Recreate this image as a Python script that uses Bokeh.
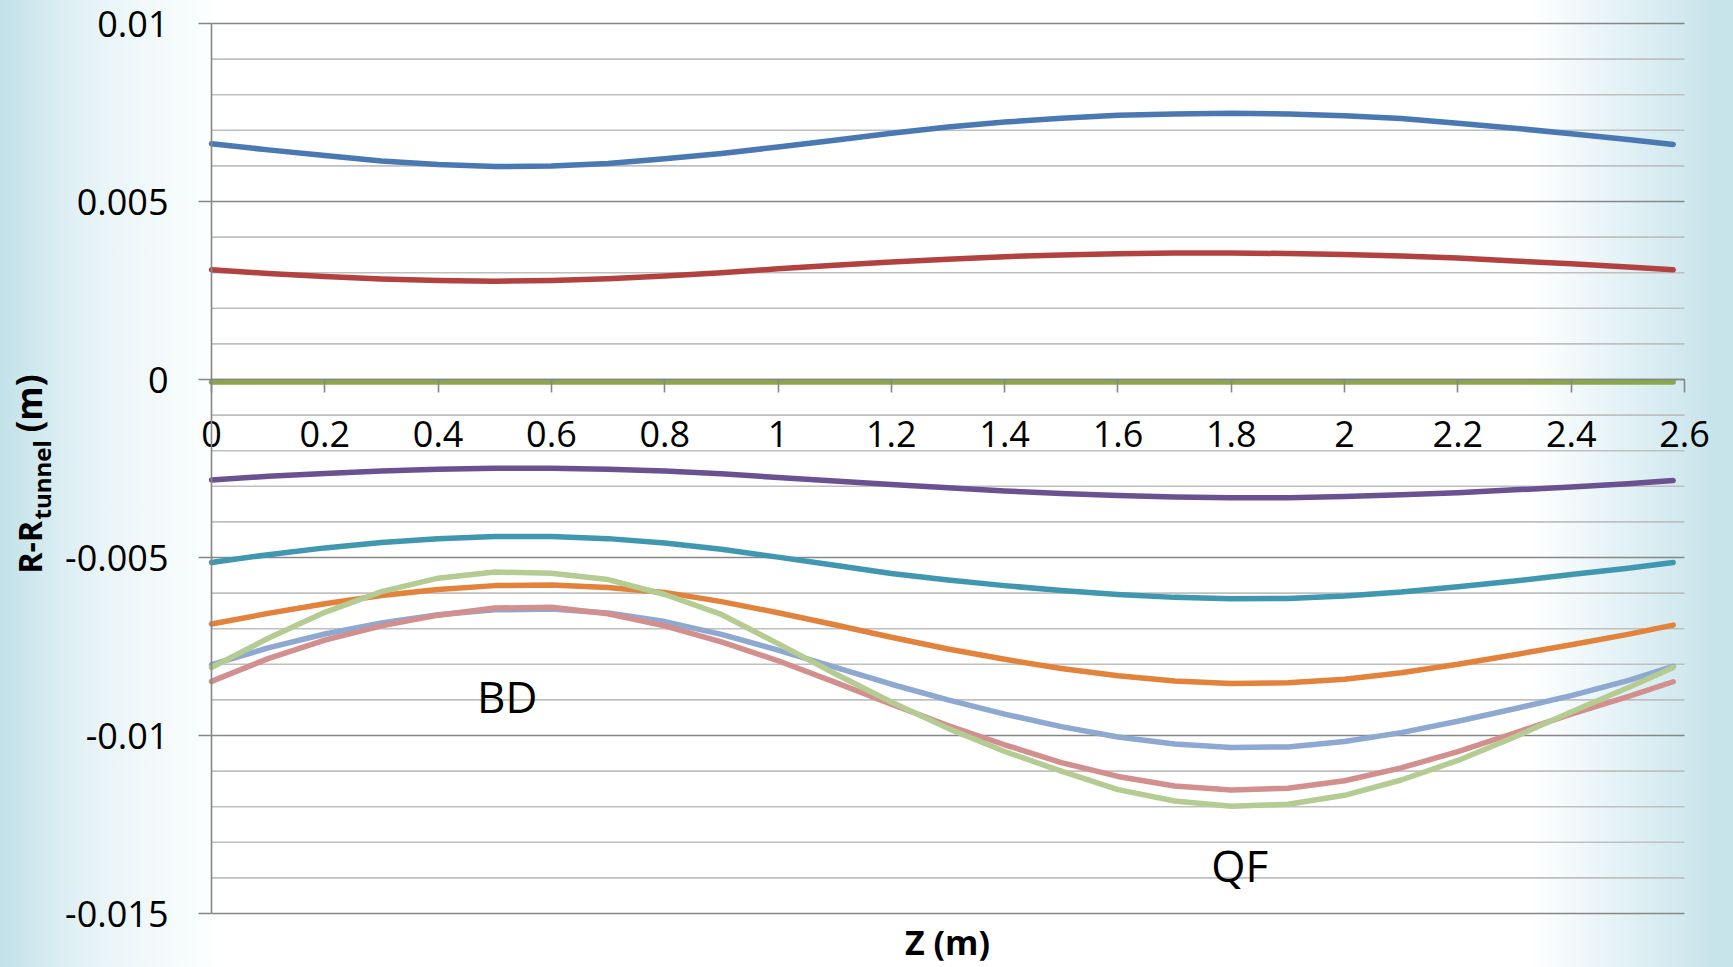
from bokeh.plotting import figure
from bokeh.models import (FixedTicker, CustomJSTickFormatter, Label, Range1d)
from bokeh.embed import file_html
from bokeh.resources import INLINE
import math

# ---------------- data ----------------
z = [0.0, 0.1, 0.2, 0.3, 0.4, 0.5, 0.6, 0.7, 0.8, 0.9, 1.0, 1.1, 1.2, 1.3,
     1.4, 1.5, 1.6, 1.7, 1.8, 1.9, 2.0, 2.1, 2.2, 2.3, 2.4, 2.5, 2.58]

s_blue = [0.00662, 0.00645, 0.00629, 0.00614, 0.00604, 0.00598, 0.00600, 0.00607,
          0.00620, 0.00635, 0.00653, 0.00672, 0.00692, 0.00709, 0.00723, 0.00734,
          0.00742, 0.00746, 0.00748, 0.00746, 0.00741, 0.00733, 0.00720, 0.00706,
          0.00690, 0.00674, 0.00660]
s_red = [0.00308, 0.00298, 0.00289, 0.00282, 0.00278, 0.00276, 0.00278, 0.00283,
         0.00291, 0.00300, 0.00311, 0.00321, 0.00330, 0.00338, 0.00345, 0.00350,
         0.00353, 0.00355, 0.00355, 0.00354, 0.00351, 0.00347, 0.00341, 0.00333,
         0.00325, 0.00316, 0.00308]
s_green = [-0.00007, -0.00007, -0.00007, -0.00007, -0.00007, -0.00007, -0.00007,
           -0.00007, -0.00007, -0.00007, -0.00007, -0.00007, -0.00007, -0.00007,
           -0.00007, -0.00007, -0.00007, -0.00007, -0.00007, -0.00007, -0.00007,
           -0.00007, -0.00007, -0.00007, -0.00007, -0.00007, -0.00007]
s_purple = [-0.00282, -0.00272, -0.00264, -0.00257, -0.00252, -0.00249, -0.00249,
            -0.00252, -0.00257, -0.00265, -0.00275, -0.00285, -0.00295, -0.00304,
            -0.00313, -0.00320, -0.00326, -0.00330, -0.00332, -0.00332, -0.00329,
            -0.00324, -0.00318, -0.00310, -0.00302, -0.00293, -0.00284]
s_teal = [-0.00514, -0.00492, -0.00473, -0.00458, -0.00447, -0.00441, -0.00441,
          -0.00447, -0.00459, -0.00477, -0.00499, -0.00522, -0.00545, -0.00563,
          -0.00579, -0.00593, -0.00604, -0.00612, -0.00616, -0.00615, -0.00608,
          -0.00597, -0.00582, -0.00566, -0.00548, -0.00530, -0.00514]
s_orange = [-0.00687, -0.00657, -0.00630, -0.00607, -0.00590, -0.00579, -0.00577,
            -0.00584, -0.00598, -0.00624, -0.00655, -0.00689, -0.00724, -0.00757,
            -0.00786, -0.00812, -0.00832, -0.00847, -0.00854, -0.00852, -0.00842,
            -0.00824, -0.00800, -0.00773, -0.00745, -0.00716, -0.00690]
s_ltblue = [-0.00801, -0.00754, -0.00715, -0.00684, -0.00661, -0.00647, -0.00645,
            -0.00656, -0.00680, -0.00716, -0.00760, -0.00808, -0.00856, -0.00900,
            -0.00940, -0.00975, -0.01004, -0.01024, -0.01034, -0.01032, -0.01017,
            -0.00992, -0.00960, -0.00925, -0.00888, -0.00846, -0.00806]
s_pink = [-0.00848, -0.00784, -0.00732, -0.00692, -0.00662, -0.00642, -0.00640,
          -0.00658, -0.00692, -0.00737, -0.00790, -0.00850, -0.00912, -0.00972,
          -0.01026, -0.01076, -0.01115, -0.01142, -0.01153, -0.01148, -0.01127,
          -0.01091, -0.01045, -0.00993, -0.00940, -0.00891, -0.00849]
s_ltgreen = [-0.00809, -0.00727, -0.00654, -0.00596, -0.00558, -0.00541, -0.00544,
             -0.00562, -0.00604, -0.00660, -0.00742, -0.00826, -0.00906, -0.00980,
             -0.01045, -0.01100, -0.01152, -0.01184, -0.01199, -0.01193, -0.01168,
             -0.01125, -0.01070, -0.01004, -0.00934, -0.00866, -0.00809]

series = [s_blue, s_red, s_green, s_purple, s_teal, s_orange, s_ltblue, s_pink, s_ltgreen]
colors = ["#4a78b3", "#b1423f", "#8aa84a", "#6c5191", "#3f98b0",
          "#e3823a", "#8da8d1", "#d28f8e", "#b4cc92"]

x_ticks = [0, 0.2, 0.4, 0.6, 0.8, 1, 1.2, 1.4, 1.6, 1.8, 2, 2.2, 2.4, 2.6]
y_ticks = [-0.015, -0.01, -0.005, 0, 0.005, 0.01]
y_minor = [round(-0.015 + 0.001 * i, 3) for i in range(26) if i % 5 != 0]

x_title = "Z (m)"
y_title_parts = ["R-R", "tunnel", "(m)"]
annotations = [("BD", 0.522, -0.00888), ("QF", 1.815, -0.01365)]

# ---------------- layout (pixels of the page) ----------------
W, H = 1733, 967
FL, FR, FT, FB = 211, 1684, 23, 913          # where the axes box sits
X0, X1, Y0, Y1 = 0.0, 2.6, -0.015, 0.01
xpp = (X1 - X0) / (FR - FL)
ypp = (Y1 - Y0) / (FB - FT)


def dx(px):
    return X0 + (px - FL) * xpp


def dy(py):
    return Y0 + (FB - py) * ypp


FONT = "Open Sans"
p = figure(width=W, height=H, output_backend="svg", toolbar_location=None,
           x_range=Range1d(dx(0), dx(W)), y_range=Range1d(dy(H), dy(0)),
           min_border=0)
p.styles = {
    "background": "linear-gradient(to right, #c2e1e9 0px, #e6f3f6 90px, #ffffff 225px, "
                  "#ffffff 1530px, #e2f1f5 1625px, #c8e4eb 1712px, #c8e4eb 1733px)",
}
p.background_fill_alpha = 0
p.border_fill_alpha = 0
p.outline_line_color = None
p.grid.visible = False

# horizontal grid lines, spanning the axes box only
p.segment(x0=X0, x1=X1, y0=y_minor, y1=y_minor, line_color="#bfbfbf",
          line_width=1.6, level="underlay")
p.segment(x0=X0, x1=X1, y0=y_ticks, y1=y_ticks, line_color="#868686",
          line_width=1.6, level="underlay")

# y axis at x = 0
ya = p.yaxis[0]
ya.fixed_location = 0
ya.bounds = (Y0, Y1)
ya.ticker = FixedTicker(ticks=y_ticks)
ya.formatter = CustomJSTickFormatter(code="return String(parseFloat(tick.toFixed(4)));")
ya.axis_line_color = "#868686"
ya.axis_line_width = 1.6
ya.major_tick_line_color = "#868686"
ya.major_tick_line_width = 1.6
ya.major_tick_out = 13
ya.major_tick_in = 0
ya.minor_tick_line_color = None
ya.major_label_text_font = FONT
ya.major_label_text_font_size = "36px"
ya.major_label_text_color = "black"
ya.major_label_standoff = 30

# x axis at y = 0
xa = p.xaxis[0]
xa.fixed_location = 0
xa.bounds = (X0, X1)
xa.ticker = FixedTicker(ticks=x_ticks)
xa.formatter = CustomJSTickFormatter(code="return String(Math.round(tick*10)/10);")
xa.axis_line_color = "#868686"
xa.axis_line_width = 1.6
xa.major_tick_line_color = "#868686"
xa.major_tick_line_width = 1.6
xa.major_tick_out = 13
xa.major_tick_in = 0
xa.minor_tick_line_color = None
xa.major_label_text_font = FONT
xa.major_label_text_font_size = "36px"
xa.major_label_text_color = "black"
xa.major_label_standoff = 28

# series (drawn above the axis lines, as in the reference)
for ys, c in zip(series, colors):
    p.line(z, ys, line_color=c, line_width=5.5, line_cap="round", line_join="round",
           level="guide")

# annotations inside plot
for txt, ax, ay in annotations:
    p.add_layout(Label(x=ax, y=ay, text=txt, text_font=FONT,
                       text_font_size="44px", text_color="black",
                       text_align="center", text_baseline="middle"))

# x title
p.add_layout(Label(x=dx(947), y=dy(941), text=x_title, text_font=FONT,
                   text_font_size="34px", text_font_style="bold", text_color="black",
                   text_align="center", text_baseline="middle"))

# y title (rotated, with subscript)
p.add_layout(Label(x=dx(29), y=dy(573), text=y_title_parts[0], angle=math.pi / 2,
                   text_font=FONT, text_font_size="32px", text_font_style="bold",
                   text_color="black", text_align="left", text_baseline="middle"))
p.add_layout(Label(x=dx(41), y=dy(519), text=y_title_parts[1], angle=math.pi / 2,
                   text_font=FONT, text_font_size="24px", text_font_style="bold",
                   text_color="black", text_align="left", text_baseline="middle"))
p.add_layout(Label(x=dx(28), y=dy(432), text=y_title_parts[2], angle=math.pi / 2,
                   text_font=FONT, text_font_size="35px", text_font_style="bold",
                   text_color="black", text_align="left", text_baseline="middle"))

open("out.html", "w").write(file_html(p, INLINE))
